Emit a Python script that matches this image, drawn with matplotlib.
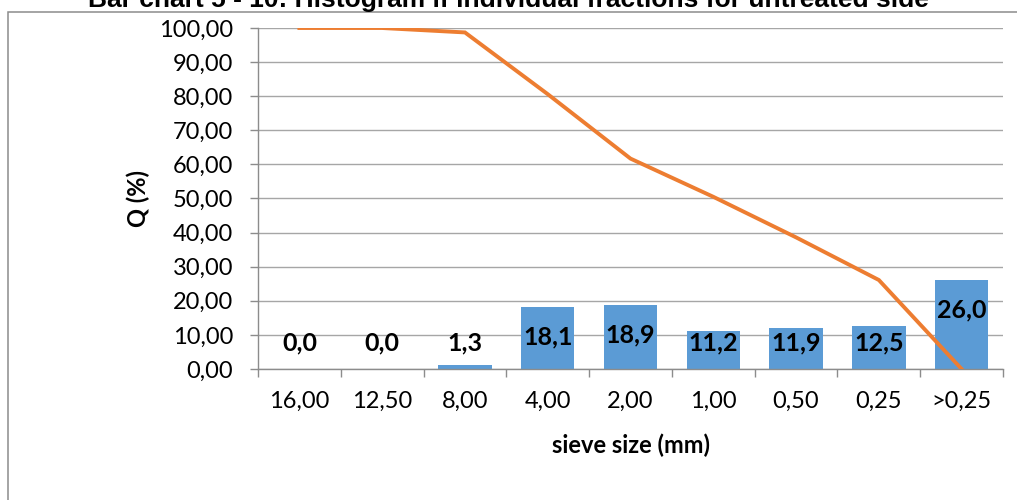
import matplotlib
matplotlib.use("Agg")
import matplotlib.pyplot as plt
from matplotlib.patches import Rectangle
from matplotlib.ticker import FuncFormatter, MultipleLocator

# Sieve analysis data
sieve_sizes = ["16,00", "12,50", "8,00", "4,00", "2,00", "1,00", "0,50", "0,25", ">0,25"]
fraction_pct = [0.0, 0.0, 1.3, 18.1, 18.9, 11.2, 11.9, 12.5, 26.0]
passing_pct = [100.0, 100.0, 98.7, 80.6, 61.7, 50.5, 38.6, 26.1, 0.0]

title = "Bar chart 5 - 10: Histogram if individual fractions for untreated side"
x_label = "sieve size (mm)"
y_label = "Q (%)"

BAR_COLOR = "#5B9BD5"
LINE_COLOR = "#ED7D31"
GRID_COLOR = "#A6A6A6"
AXIS_COLOR = "#8C8C8C"
TEXT_FONT = ["Lato", "DejaVu Sans"]

W, H = 1017, 500
fig = plt.figure(figsize=(W / 100, H / 100), dpi=100)

# Chart area frame
fig.patches.append(Rectangle((7.7 / W, -0.2), 2.0, 1.2 - 11.7 / H,
                             transform=fig.transFigure, fill=False,
                             edgecolor=AXIS_COLOR, linewidth=1.1, zorder=0))

ax = fig.add_axes([258 / W, 1 - 369 / H, (1003 - 258) / W, (369 - 28) / H])

x = list(range(len(sieve_sizes)))
ax.bar(x, fraction_pct, width=0.645, color=BAR_COLOR, zorder=2)
ax.plot(x, passing_pct, color=LINE_COLOR, linewidth=2.8, zorder=3,
        solid_joinstyle="miter")

# Value labels near the inside end of each bar
for xi, v in zip(x, fraction_pct):
    ax.text(xi, max(v - 8.8, 7.6), f"{v:.1f}".replace(".", ","),
            ha="center", va="center", fontsize=18, fontweight="bold",
            family=TEXT_FONT, color="black", zorder=4)

ax.set_xlim(-0.5, len(sieve_sizes) - 0.5)
ax.set_ylim(0, 100)
ax.yaxis.set_major_locator(MultipleLocator(10))
ax.yaxis.set_major_formatter(FuncFormatter(lambda v, p: f"{v:.2f}".replace(".", ",")))

# Category boundaries carry the tick marks; labels sit at the centres
ax.set_xticks([i - 0.5 for i in range(len(sieve_sizes) + 1)])
ax.set_xticklabels([])
ax.set_xticks(x, minor=True)
ax.set_xticklabels(sieve_sizes, minor=True)
ax.tick_params(axis="x", which="major", length=6, width=1, color=AXIS_COLOR)
ax.tick_params(axis="x", which="minor", length=0, pad=16, labelsize=17)
ax.tick_params(axis="y", length=6, width=1, color=AXIS_COLOR, pad=12, labelsize=17)
for lab in ax.get_xticklabels(minor=True) + ax.get_yticklabels():
    lab.set_family(TEXT_FONT)

ax.grid(axis="y", color=GRID_COLOR, linewidth=1.0, zorder=0)
ax.set_axisbelow(True)
for side in ("top", "right"):
    ax.spines[side].set_visible(False)
for side in ("left", "bottom"):
    ax.spines[side].set_color(AXIS_COLOR)
    ax.spines[side].set_linewidth(1.0)

ax.set_xlabel(x_label, fontsize=17, fontweight="bold", family=TEXT_FONT, va="center")
ax.xaxis.set_label_coords(0.5, (369 - 445) / 341)
ax.set_ylabel(y_label, fontsize=17, fontweight="bold", family=TEXT_FONT, va="center")
ax.yaxis.set_label_coords((138 - 258) / 745, 0.5)

fig.text(0.5, 1 - 7 / H, title, ha="center", va="baseline", fontsize=19,
         fontweight="bold", family=["Liberation Sans", "DejaVu Sans"])

fig.savefig("out.png", dpi=100)
